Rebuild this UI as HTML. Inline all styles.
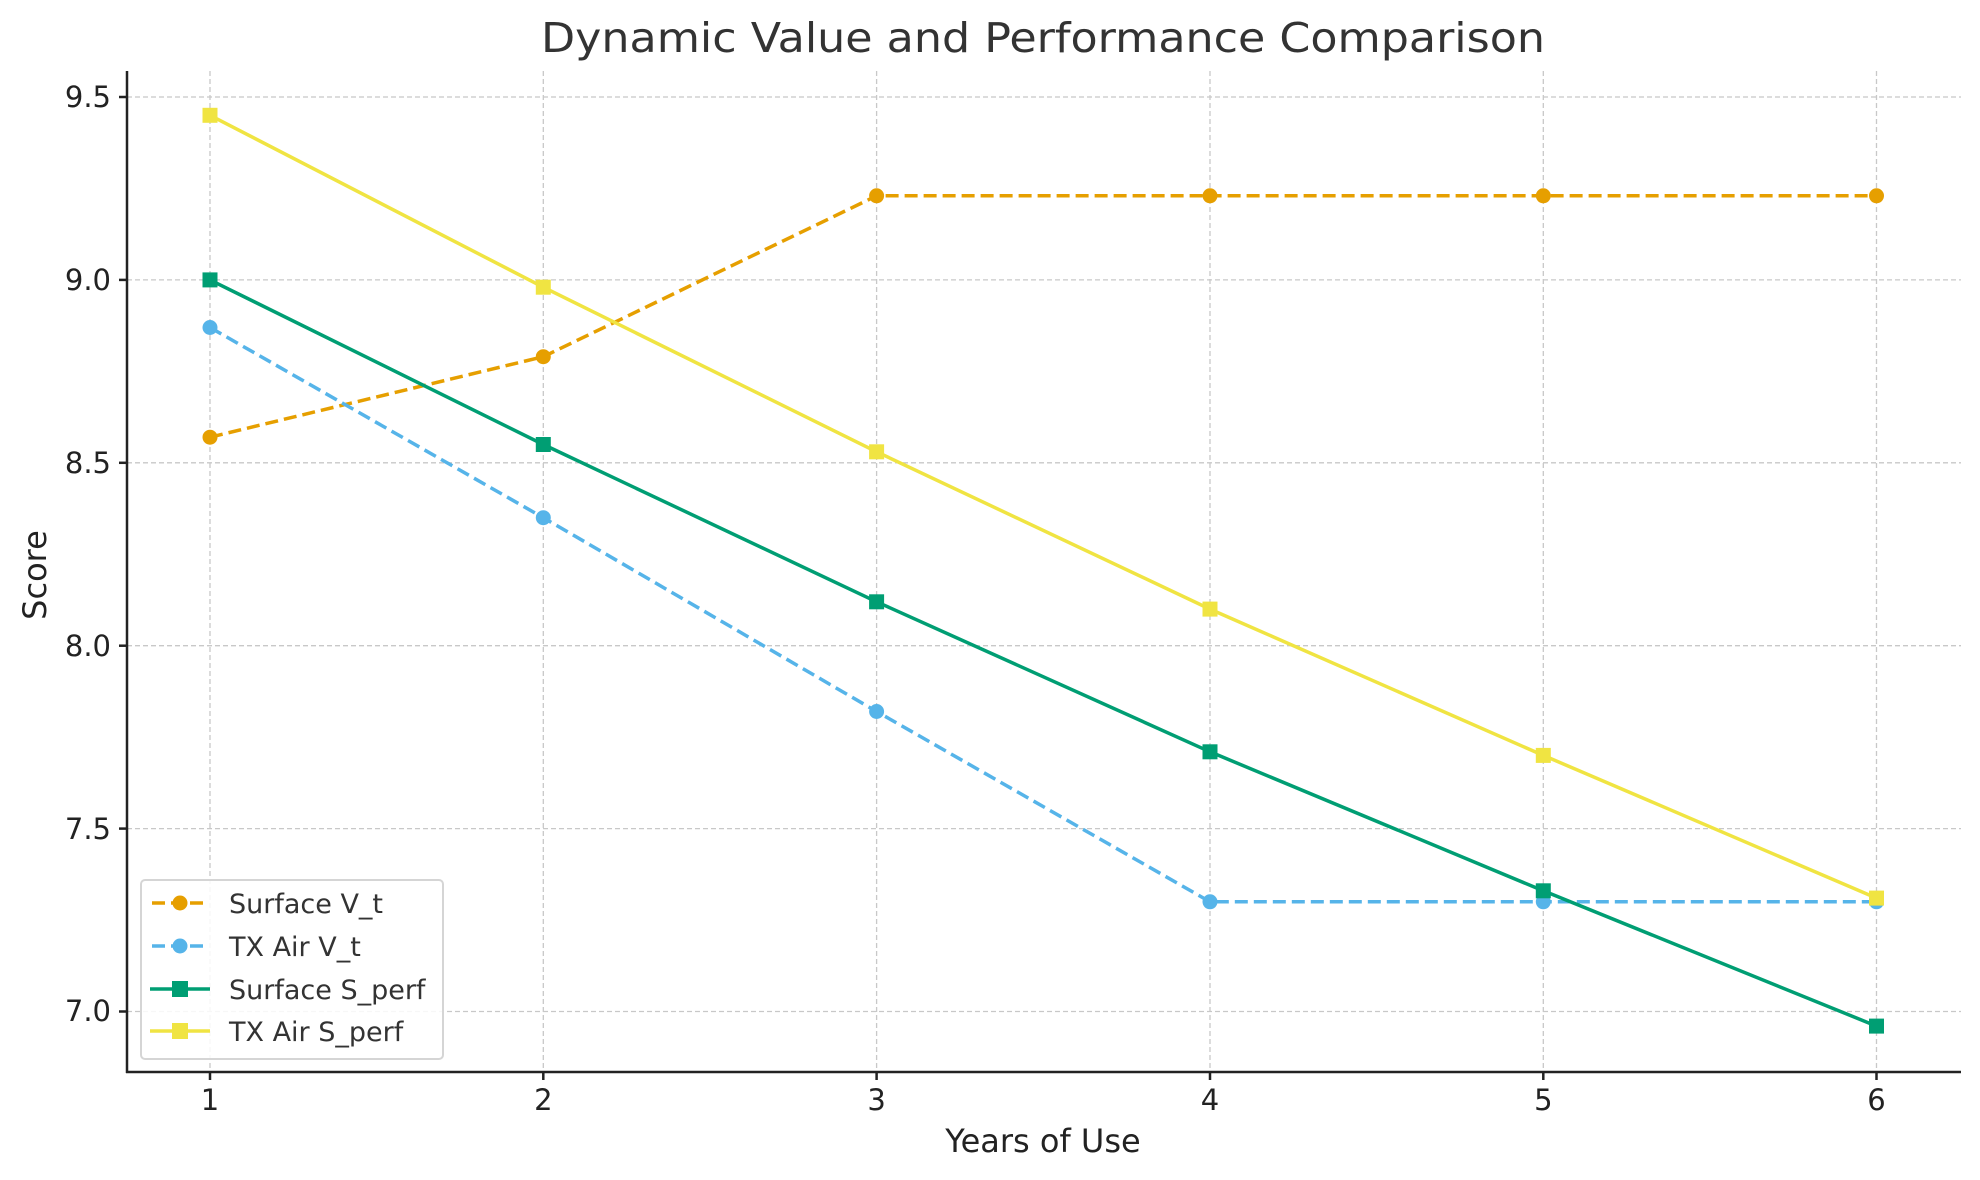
<!DOCTYPE html>
<html><head><meta charset="utf-8"><style>body{margin:0;background:#fff}svg{display:block}</style></head><body>
<svg width="1980" height="1180" xmlns="http://www.w3.org/2000/svg" font-family="'DejaVu Sans','Liberation Sans',sans-serif">
<rect width="1980" height="1180" fill="#fff"/>
<g stroke="#c8c8c8" stroke-width="1.3" stroke-dasharray="5,3">
<line x1="127" x2="1961" y1="97" y2="97"/><line x1="127" x2="1961" y1="279.9" y2="279.9"/><line x1="127" x2="1961" y1="462.8" y2="462.8"/><line x1="127" x2="1961" y1="645.7" y2="645.7"/><line x1="127" x2="1961" y1="828.6" y2="828.6"/><line x1="127" x2="1961" y1="1011.5" y2="1011.5"/>
<line x1="210" x2="210" y1="71" y2="1072"/><line x1="543.3" x2="543.3" y1="71" y2="1072"/><line x1="876.6" x2="876.6" y1="71" y2="1072"/><line x1="1210" x2="1210" y1="71" y2="1072"/><line x1="1543.3" x2="1543.3" y1="71" y2="1072"/><line x1="1876.5" x2="1876.5" y1="71" y2="1072"/>
</g>
<g fill="none" stroke-width="3.5">
<polyline stroke="#E69F00" stroke-dasharray="13,6" points="210,437.2 543.3,356.7 876.6,195.8 1210,195.8 1543.3,195.8 1876.5,195.8"/>
<polyline stroke="#56B4E9" stroke-dasharray="13,6" points="210,327.5 543.3,517.7 876.6,711.5 1210,901.8 1543.3,901.8 1876.5,901.8"/>
<polyline stroke="#009E73" points="210,279.9 543.3,444.5 876.6,601.8 1210,751.8 1543.3,890.8 1876.5,1026.1"/>
<polyline stroke="#F0E442" points="210,115.3 543.3,287.2 876.6,451.8 1210,609.1 1543.3,755.4 1876.5,898.1"/>
</g>
<g fill="#E69F00"><circle cx="210" cy="437.2" r="7.5"/><circle cx="543.3" cy="356.7" r="7.5"/><circle cx="876.6" cy="195.8" r="7.5"/><circle cx="1210" cy="195.8" r="7.5"/><circle cx="1543.3" cy="195.8" r="7.5"/><circle cx="1876.5" cy="195.8" r="7.5"/></g>
<g fill="#56B4E9"><circle cx="210" cy="327.5" r="7.5"/><circle cx="543.3" cy="517.7" r="7.5"/><circle cx="876.6" cy="711.5" r="7.5"/><circle cx="1210" cy="901.8" r="7.5"/><circle cx="1543.3" cy="901.8" r="7.5"/><circle cx="1876.5" cy="901.8" r="7.5"/></g>
<g fill="#009E73"><rect x="202.5" y="272.4" width="15" height="15"/><rect x="535.8" y="437" width="15" height="15"/><rect x="869.1" y="594.3" width="15" height="15"/><rect x="1202.5" y="744.3" width="15" height="15"/><rect x="1535.8" y="883.3" width="15" height="15"/><rect x="1869" y="1018.6" width="15" height="15"/></g>
<g fill="#F0E442"><rect x="202.5" y="107.8" width="15" height="15"/><rect x="535.8" y="279.7" width="15" height="15"/><rect x="869.1" y="444.3" width="15" height="15"/><rect x="1202.5" y="601.6" width="15" height="15"/><rect x="1535.8" y="747.9" width="15" height="15"/><rect x="1869" y="890.6" width="15" height="15"/></g>
<g stroke="#222" stroke-width="2.5"><line x1="127" y1="71" x2="127" y2="1073"/><line x1="126" y1="1072" x2="1961" y2="1072"/>
<line x1="119" x2="127" y1="97" y2="97"/><line x1="119" x2="127" y1="279.9" y2="279.9"/><line x1="119" x2="127" y1="462.8" y2="462.8"/><line x1="119" x2="127" y1="645.7" y2="645.7"/><line x1="119" x2="127" y1="828.6" y2="828.6"/><line x1="119" x2="127" y1="1011.5" y2="1011.5"/>
<line x1="210" x2="210" y1="1072" y2="1080"/><line x1="543.3" x2="543.3" y1="1072" y2="1080"/><line x1="876.6" x2="876.6" y1="1072" y2="1080"/><line x1="1210" x2="1210" y1="1072" y2="1080"/><line x1="1543.3" x2="1543.3" y1="1072" y2="1080"/><line x1="1876.5" x2="1876.5" y1="1072" y2="1080"/></g>
<g fill="#222" font-size="29" text-anchor="end"><text x="111" y="107">9.5</text><text x="111" y="290">9.0</text><text x="111" y="473">8.5</text><text x="111" y="656">8.0</text><text x="111" y="839">7.5</text><text x="111" y="1021">7.0</text></g>
<g fill="#222" font-size="29" text-anchor="middle"><text x="210" y="1110">1</text><text x="543.3" y="1110">2</text><text x="876.6" y="1110">3</text><text x="1210" y="1110">4</text><text x="1543.3" y="1110">5</text><text x="1876.5" y="1110">6</text></g>
<text x="1043" y="1152" font-size="32" fill="#222" text-anchor="middle">Years of Use</text>
<text transform="translate(46,575) rotate(-90)" font-size="32" fill="#222" text-anchor="middle">Score</text>
<text x="1043" y="52" font-size="41" fill="#333" text-anchor="middle" textLength="1004" lengthAdjust="spacingAndGlyphs">Dynamic Value and Performance Comparison</text>
<rect x="141" y="880" width="302" height="179" rx="4" fill="#fff" fill-opacity="0.85" stroke="#d5d5d5" stroke-width="2"/>
<g stroke-width="3.5"><line x1="152" x2="208" y1="903" y2="903" stroke="#E69F00" stroke-dasharray="13,6"/><line x1="152" x2="208" y1="946" y2="946" stroke="#56B4E9" stroke-dasharray="13,6"/><line x1="150" x2="210" y1="989" y2="989" stroke="#009E73"/><line x1="150" x2="210" y1="1031" y2="1031" stroke="#F0E442"/></g>
<circle cx="180" cy="903" r="7.5" fill="#E69F00"/><circle cx="180" cy="946" r="7.5" fill="#56B4E9"/><rect x="172" y="981" width="16" height="16" fill="#009E73"/><rect x="172" y="1023" width="16" height="16" fill="#F0E442"/>
<g font-size="27" fill="#333"><text x="229" y="913">Surface V_t</text><text x="229" y="956">TX Air V_t</text><text x="229" y="999">Surface S_perf</text><text x="229" y="1041">TX Air S_perf</text></g>
</svg>
</body></html>
